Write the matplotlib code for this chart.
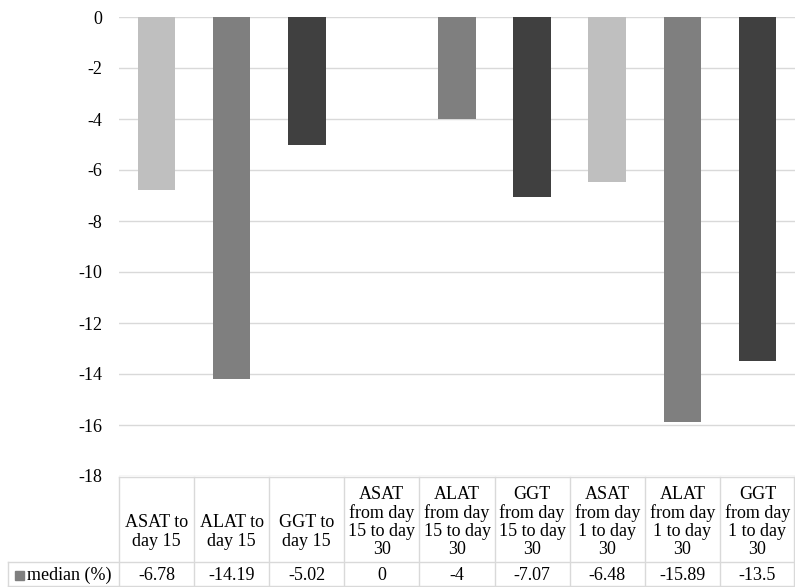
import numpy as np
import matplotlib.pyplot as plt

# ---------- data ----------
categories = [
    "ASAT to\nday 15", "ALAT to\nday 15", "GGT to\nday 15",
    "ASAT\nfrom day\n15 to day\n30", "ALAT\nfrom day\n15 to day\n30", "GGT\nfrom day\n15 to day\n30",
    "ASAT\nfrom day\n1 to day\n30", "ALAT\nfrom day\n1 to day\n30", "GGT\nfrom day\n1 to day\n30",
]
median_pct = [-6.78, -14.19, -5.02, 0, -4, -7.07, -6.48, -15.89, -13.5]
value_labels = ["-6.78", "-14.19", "-5.02", "0", "-4", "-7.07", "-6.48", "-15.89", "-13.5"]
series_name = "median (%)"
yticks = [0, -2, -4, -6, -8, -10, -12, -14, -16, -18]

bar_colors = ["#bfbfbf", "#7f7f7f", "#404040"] * 3
grid_col = "#d9d9d9"

plt.rcParams["font.family"] = ["Liberation Serif", "DejaVu Serif"]
plt.rcParams["font.size"] = 13

W, H = 795, 587
fig = plt.figure(figsize=(W / 100, H / 100), dpi=100)

# plot area in pixels
x0, x1 = 119, 795
y_top, y_bot = 17, 476
ax = fig.add_axes([x0 / W, 1 - y_bot / H, (x1 - x0) / W, (y_bot - y_top) / H])

x = np.arange(len(median_pct))
ax.bar(x, median_pct, width=0.5, color=bar_colors, zorder=3)
ax.set_xlim(-0.5, len(median_pct) - 0.5)
ax.set_ylim(-18, 0)
ax.set_yticks(yticks)
ax.set_yticklabels([str(t) for t in yticks])
ax.set_xticks([])
ax.grid(axis="y", color=grid_col, linewidth=1, zorder=0)
for s in ax.spines.values():
    s.set_visible(False)
ax.tick_params(axis="y", length=0, pad=12)

# ---------- data table ----------
def fx(px):
    return px / W

def fy(py):
    return 1 - py / H

t_top, t_mid, t_bot = 477, 562, 587
leg_left = 8
col_w = (x1 - x0) / len(categories)
lk = dict(color=grid_col, linewidth=1, transform=fig.transFigure)

fig.add_artist(plt.Line2D([fx(x0), fx(x1)], [fy(t_top), fy(t_top)], **lk))
fig.add_artist(plt.Line2D([fx(leg_left), fx(x1)], [fy(t_mid), fy(t_mid)], **lk))
fig.add_artist(plt.Line2D([fx(leg_left), fx(x1)], [fy(t_bot - 1), fy(t_bot - 1)], **lk))
fig.add_artist(plt.Line2D([fx(leg_left), fx(leg_left)], [fy(t_mid), fy(t_bot)], **lk))
for i in range(len(categories) + 1):
    xp = x0 + i * col_w
    if i == len(categories):
        xp -= 1
    fig.add_artist(plt.Line2D([fx(xp), fx(xp)], [fy(t_top), fy(t_bot)], **lk))

for i, (lab, val) in enumerate(zip(categories, value_labels)):
    cx = x0 + (i + 0.5) * col_w
    nlines = lab.count("\n") + 1
    cy = 522 if nlines > 2 else 532
    fig.text(fx(cx), fy(cy), lab, ha="center", va="center", linespacing=1.1)
    fig.text(fx(cx), fy(575), val, ha="center", va="center")

# legend key + series name
fig.add_artist(plt.Rectangle((fx(15), fy(580)), fx(9), 9 / H, color="#7f7f7f",
                             transform=fig.transFigure))
fig.text(fx(27), fy(575), series_name, ha="left", va="center")

fig.savefig("out.png", dpi=100)
